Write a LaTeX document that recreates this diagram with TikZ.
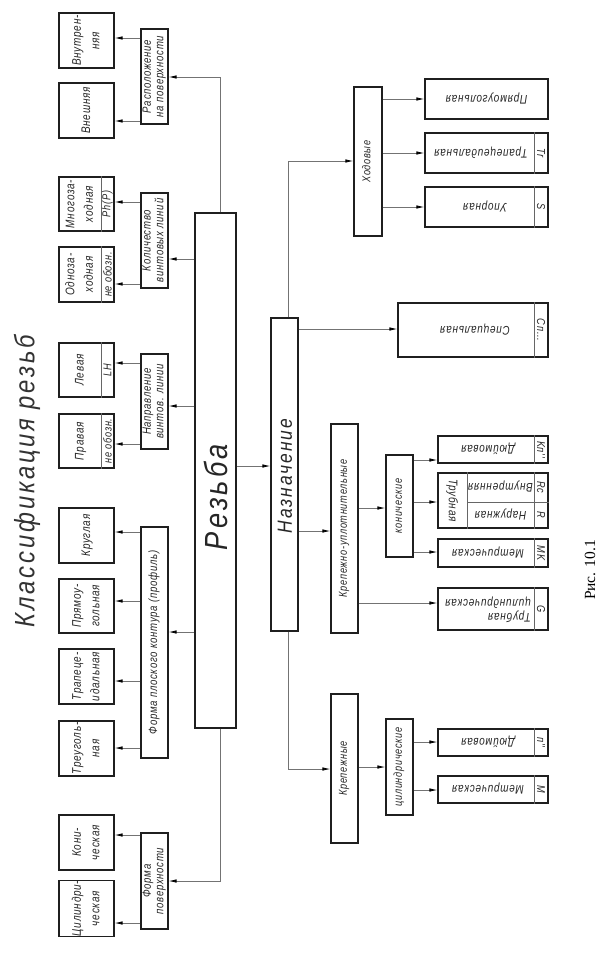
\documentclass[tikz,border=0pt]{standalone}
\usepackage{fontspec}
\usepackage{graphicx}
\usetikzlibrary{arrows.meta}
\newfontfamily\gost[FakeStretch=0.8,LetterSpace=6]{Liberation Sans}
\newfontfamily\gostbig[FakeStretch=0.85,LetterSpace=10]{Liberation Sans}
\newfontfamily\figfont{Liberation Serif}
\newcommand\fleaf{\gost\itshape\fontsize{12.5}{18.5}\selectfont}
\newcommand\fmid{\gost\itshape\fontsize{12}{12.5}\selectfont}
\newcommand\fsml{\gost\itshape\fontsize{11.5}{12}\selectfont}
\newcommand\fcell{\gost\itshape\fontsize{11.5}{12}\selectfont}
\newcommand\rt[2]{\rotatebox{#1}{\begin{tabular}{@{}c@{}}#2\end{tabular}}}
\newcommand\bx[7][]{\node[box,minimum width={(#5)-(#3)},minimum height={(#6)-(#4)},#1] (#2) at ({((#3)+(#5))/2},{((#4)+(#6))/2}) {#7};}
\begin{document}
\begin{tikzpicture}[x=1pt,y=-1pt,
  box/.style={draw=black!88,line width=1.1pt,inner sep=0pt,font=\fleaf,text=black!85},
  txt/.style={inner sep=0pt,font=\fleaf,text=black!85},
  cell/.style={inner sep=0pt,font=\fcell,text=black!85},
  div/.style={draw=black!60,line width=0.7pt},
  conn/.style={draw=black!55,line width=0.8pt,-{Latex[length=8pt,width=3.5pt,color=black]}}]
\useasboundingbox (0,0) rectangle (606,958);

% title
\node[rotate=90,inner sep=0pt,font=\gostbig\itshape\fontsize{28}{28}\selectfont,text=black!80] (title) at (27,481) {Классификация резьб};

% ---- left leaves
\bx{vnutr}{59}{13}{114}{68}{\rt{90}{Внутрен-\\няя}}
\bx{vnesh}{59}{83}{114}{138}{\rt{90}{Внешняя}}
\bx{mnogo}{59}{177}{114}{231}{}
\draw[div] (mnogo.north -| 101,0) -- (mnogo.south -| 101,0);
\node[txt] (mnogo-t) at (80,204) {\rt{90}{Многоза-\\ходная}};
\node[cell] (mnogo-c) at (107.5,204) {\rotatebox{90}{Ph(P)}};
\bx{odno}{59}{247}{114}{302}{}
\draw[div] (odno.north -| 101,0) -- (odno.south -| 101,0);
\node[txt] (odno-t) at (80,274.5) {\rt{90}{Одноза-\\ходная}};
\node[cell] (odno-c) at (107.5,274.5) {\rotatebox{90}{не обозн.}};
\bx{levaya}{59}{343}{114}{397}{}
\draw[div] (levaya.north -| 101,0) -- (levaya.south -| 101,0);
\node[txt] (levaya-t) at (80,370) {\rt{90}{Левая}};
\node[cell] (levaya-c) at (107.5,370) {\rotatebox{90}{LH}};
\bx{pravaya}{59}{414}{114}{468}{}
\draw[div] (pravaya.north -| 101,0) -- (pravaya.south -| 101,0);
\node[txt] (pravaya-t) at (80,441) {\rt{90}{Правая}};
\node[cell] (pravaya-c) at (107.5,441) {\rotatebox{90}{не обозн.}};
\bx{krug}{59}{508}{114}{563}{\rt{90}{Круглая}}
\bx{pryam}{59}{579}{114}{633}{\rt{90}{Прямоу-\\гольная}}
\bx{trap}{59}{649}{114}{704}{\rt{90}{Трапеце-\\идальная}}
\bx{treug}{59}{721}{114}{776}{\rt{90}{Треуголь-\\ная}}
\bx{kon}{59}{815}{114}{870}{\rt{90}{Кони-\\ческая}}
\bx{cil}{59}{881}{114}{936}{\rt{90}{Цилиндри-\\ческая}}

% ---- middle column
\bx[font=\fmid]{raspol}{141}{29}{168}{124}{\rt{90}{Расположение\\на поверхности}}
\bx[font=\fmid]{kolich}{141}{193}{168}{288}{\rt{90}{Количество\\винтовых линий}}
\bx[font=\fmid]{naprav}{141}{354}{168}{449}{\rt{90}{Направление\\винтов. линии}}
\bx[font=\fmid]{forma}{141}{527}{168}{758}{\rt{90}{Форма плоского контура (профиль)}}
\bx[font=\fmid]{formpov}{141}{833}{168}{929}{\rt{90}{Форма\\поверхности}}

% ---- main
\bx{rez}{195}{213}{236}{728}{}
\node[rotate=90,inner sep=0pt,font=\gostbig\itshape\fontsize{32}{32}\selectfont,text=black!85] (rez-t) at (215.5,497) {Резьба};
\bx{naz}{271}{318}{298}{631}{}
\node[rotate=90,inner sep=0pt,font=\gostbig\itshape\fontsize{20.5}{21}\selectfont,text=black!85] (naz-t) at (285,476) {Назначение};

\bx[font=\fsml]{hod}{354}{87}{382}{236}{\rt{90}{Ходовые}}
\bx[font=\fsml]{kru}{331}{424}{358}{633}{\rt{90}{Крепежно-уплотнительные}}
\bx[font=\fsml]{krep}{331}{694}{358}{843}{\rt{90}{Крепежные}}
\bx[font=\fsml]{konich}{386}{455}{413}{557}{\rt{90}{конические}}
\bx[font=\fsml]{cilind}{386}{719}{413}{815}{\rt{90}{цилиндрические}}

% ---- right leaves
\bx{rpryam}{425}{79}{548}{119}{\rt{180}{Прямоугольная}}
\bx{rtrap}{425}{133}{548}{173}{}
\draw[div] (rtrap.north -| 534,0) -- (rtrap.south -| 534,0);
\node[txt] (rtrap-t) at (481,153) {\rt{180}{Трапецеидальная}};
\node[cell] (rtrap-c) at (541,153) {\rotatebox{-90}{Tr}};
\bx{rupor}{425}{187}{548}{227}{}
\draw[div] (rupor.north -| 534,0) -- (rupor.south -| 534,0);
\node[txt] (rupor-t) at (485,207) {\rt{180}{Упорная}};
\node[cell] (rupor-c) at (541,207) {\rotatebox{-90}{S}};
\bx{rspec}{398}{303}{548}{357}{}
\draw[div] (rspec.north -| 534,0) -- (rspec.south -| 534,0);
\node[txt] (rspec-t) at (475,330) {\rt{180}{Специальная}};
\node[cell] (rspec-c) at (541,330) {\rotatebox{-90}{Сп...}};

\bx{rdkon}{438}{436}{548}{463}{}
\draw[div] (rdkon.north -| 534,0) -- (rdkon.south -| 534,0);
\node[txt] (rdkon-t) at (488,449.5) {\rt{180}{Дюймовая}};
\node[cell] (rdkon-c) at (541,449.5) {\rotatebox{-90}{Kп''}};
\bx{rtrkon}{438}{473}{548}{528}{}
\draw[div] (rtrkon.north -| 467,0) -- (rtrkon.south -| 467,0);
\draw[div] (rtrkon.north -| 534,0) -- (rtrkon.south -| 534,0);
\draw[div] (467,502) -- (rtrkon.east |- 0,502);
\node[txt] (rtrkon-t) at (452.5,500.5) {\rt{-90}{Трубная}};
\node[txt] (rtrkon-v) at (500.5,487.5) {\rt{180}{Внутренняя}};
\node[txt] (rtrkon-n) at (500.5,515) {\rt{180}{Наружная}};
\node[cell] (rtrkon-c1) at (541,487.5) {\rotatebox{-90}{Rc}};
\node[cell] (rtrkon-c2) at (541,515) {\rotatebox{-90}{R}};
\bx{rmkon}{438}{539}{548}{567}{}
\draw[div] (rmkon.north -| 534,0) -- (rmkon.south -| 534,0);
\node[txt] (rmkon-t) at (488,553) {\rt{180}{Метрическая}};
\node[cell] (rmkon-c) at (541,553) {\rotatebox{-90}{MK}};
\bx{rtrcil}{438}{588}{548}{630}{}
\draw[div] (rtrcil.north -| 534,0) -- (rtrcil.south -| 534,0);
\node[txt,font=\gost\itshape\fontsize{12.5}{14}\selectfont] (rtrcil-t) at (488,609) {\rotatebox{180}{\begin{tabular}{@{}l@{}}Трубная\\цилиндрическая\end{tabular}}};
\node[cell] (rtrcil-c) at (541,609) {\rotatebox{-90}{G}};

\bx{rdcil}{438}{729}{548}{756}{}
\draw[div] (rdcil.north -| 534,0) -- (rdcil.south -| 534,0);
\node[txt] (rdcil-t) at (488,742.5) {\rt{180}{Дюймовая}};
\node[cell] (rdcil-c) at (541,742.5) {\rotatebox{-90}{п''}};
\bx{rmcil}{438}{776}{548}{803}{}
\draw[div] (rmcil.north -| 534,0) -- (rmcil.south -| 534,0);
\node[txt] (rmcil-t) at (488,789.5) {\rt{180}{Метрическая}};
\node[cell] (rmcil-c) at (541,789.5) {\rotatebox{-90}{M}};

% caption
\node[rotate=90,inner sep=0pt,font=\figfont\fontsize{15.5}{16}\selectfont] (cap) at (590,570) {Рис. 10.1};

% ---- connectors
\draw[conn] (rez.north -| 220,0) |- (raspol.east |- 0,77);
\draw[conn] (rez.west |- 0,259) -- (kolich.east |- 0,259);
\draw[conn] (rez.west |- 0,406) -- (naprav.east |- 0,406);
\draw[conn] (rez.west |- 0,632) -- (forma.east |- 0,632);
\draw[conn] (rez.south -| 220,0) |- (formpov.east |- 0,881);
\draw[conn] (rez.east |- 0,466) -- (naz.west |- 0,466);

\draw[conn] (raspol.west |- 0,38) -- (vnutr.east |- 0,38);
\draw[conn] (raspol.west |- 0,121) -- (vnesh.east |- 0,121);
\draw[conn] (kolich.west |- 0,202) -- (mnogo.east |- 0,202);
\draw[conn] (kolich.west |- 0,284) -- (odno.east |- 0,284);
\draw[conn] (naprav.west |- 0,363) -- (levaya.east |- 0,363);
\draw[conn] (naprav.west |- 0,444) -- (pravaya.east |- 0,444);
\draw[conn] (forma.west |- 0,532) -- (krug.east |- 0,532);
\draw[conn] (forma.west |- 0,601) -- (pryam.east |- 0,601);
\draw[conn] (forma.west |- 0,681) -- (trap.east |- 0,681);
\draw[conn] (forma.west |- 0,748) -- (treug.east |- 0,748);
\draw[conn] (formpov.west |- 0,835) -- (kon.east |- 0,835);
\draw[conn] (formpov.west |- 0,923) -- (cil.east |- 0,923);

\draw[conn] (naz.north -| 288,0) |- (hod.west |- 0,161);
\draw[conn] (naz.east |- 0,329) -- (rspec.west |- 0,329);
\draw[conn] (naz.east |- 0,531) -- (kru.west |- 0,531);
\draw[conn] (naz.south -| 288,0) |- (krep.west |- 0,769);

\draw[conn] (hod.east |- 0,99) -- (rpryam.west |- 0,99);
\draw[conn] (hod.east |- 0,153) -- (rtrap.west |- 0,153);
\draw[conn] (hod.east |- 0,207) -- (rupor.west |- 0,207);

\draw[conn] (kru.east |- 0,603) -- (rtrcil.west |- 0,603);
\draw[conn] (kru.east |- 0,508) -- (konich.west |- 0,508);
\draw[conn] (konich.east |- 0,460) -- (rdkon.west |- 0,460);
\draw[conn] (konich.east |- 0,502) -- (rtrkon.west |- 0,502);
\draw[conn] (konich.east |- 0,552) -- (rmkon.west |- 0,552);

\draw[conn] (krep.east |- 0,767) -- (cilind.west |- 0,767);
\draw[conn] (cilind.east |- 0,742) -- (rdcil.west |- 0,742);
\draw[conn] (cilind.east |- 0,790) -- (rmcil.west |- 0,790);
\end{tikzpicture}
\end{document}
